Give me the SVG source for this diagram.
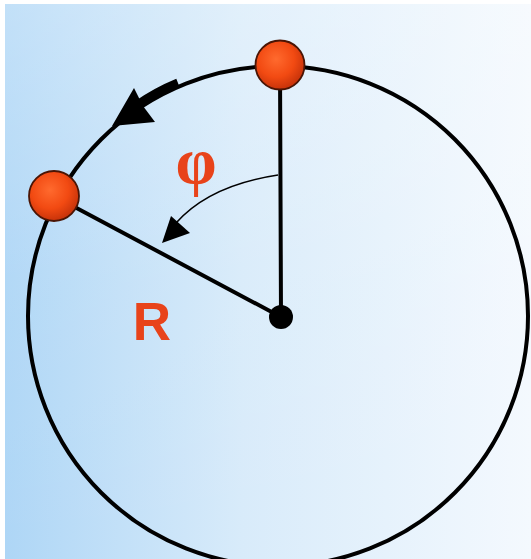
<svg xmlns="http://www.w3.org/2000/svg" width="531" height="559" viewBox="0 0 531 559">
  <defs>
    <linearGradient id="bgH" x1="0" y1="0" x2="1" y2="0">
      <stop offset="0" stop-color="#aed6f6"/>
      <stop offset="0.45" stop-color="#d8ebfa"/>
      <stop offset="1" stop-color="#f4f9fe"/>
    </linearGradient>
    <linearGradient id="bgV" x1="0" y1="0" x2="0" y2="1">
      <stop offset="0" stop-color="#ffffff" stop-opacity="0.25"/>
      <stop offset="0.5" stop-color="#ffffff" stop-opacity="0.05"/>
      <stop offset="1" stop-color="#ffffff" stop-opacity="0"/>
    </linearGradient>
    <radialGradient id="ball" cx="0.42" cy="0.38" r="0.62">
      <stop offset="0" stop-color="#ff6a2e"/>
      <stop offset="0.6" stop-color="#f24a12"/>
      <stop offset="1" stop-color="#c8330a"/>
    </radialGradient>
    <style>
      .line { stroke: #000; stroke-width: 4; fill: none; stroke-linecap: round; }
      .ball { fill: url(#ball); stroke: #4a1505; stroke-width: 1.8; }
      .lbl { fill: #e8431a; }
    </style>
  </defs>

  <rect x="0" y="0" width="531" height="559" fill="#ffffff"/>
  <rect x="5" y="4" width="526" height="555" fill="url(#bgH)"/>
  <rect x="5" y="4" width="526" height="555" fill="url(#bgV)"/>

  <g id="orbit">
    <circle cx="278" cy="316" r="250" class="line"/>
  </g>

  <g id="connectors">
    <line x1="280" y1="65" x2="281" y2="317" class="line"/>
    <line x1="54" y1="196" x2="281" y2="317" class="line"/>
    <path d="M178,83 Q156,92 136,106" stroke="#000" stroke-width="9" fill="none"/>
    <polygon points="112,126 134,88 143,106 155,122" fill="#000"/>
    <path d="M278,175 C238,181 200,196 176,223" stroke="#000" stroke-width="1.6" fill="none"/>
    <polygon points="162,243 171,216 190,233" fill="#000"/>
  </g>

  <g id="center">
    <circle cx="281" cy="317" r="12" fill="#000"/>
  </g>

  <g id="ball-top">
    <circle cx="280" cy="65" r="24.5" class="ball"/>
  </g>

  <g id="ball-left">
    <circle cx="54" cy="196" r="25" class="ball"/>
  </g>

  <g id="label-phi">
    <text x="196" y="183" text-anchor="middle" font-family="Liberation Serif, serif" font-weight="bold" font-size="66" class="lbl">φ</text>
  </g>

  <g id="label-R">
    <text x="152" y="340" text-anchor="middle" font-family="Liberation Sans, Arial, sans-serif" font-weight="bold" font-size="53" class="lbl">R</text>
  </g>
</svg>
